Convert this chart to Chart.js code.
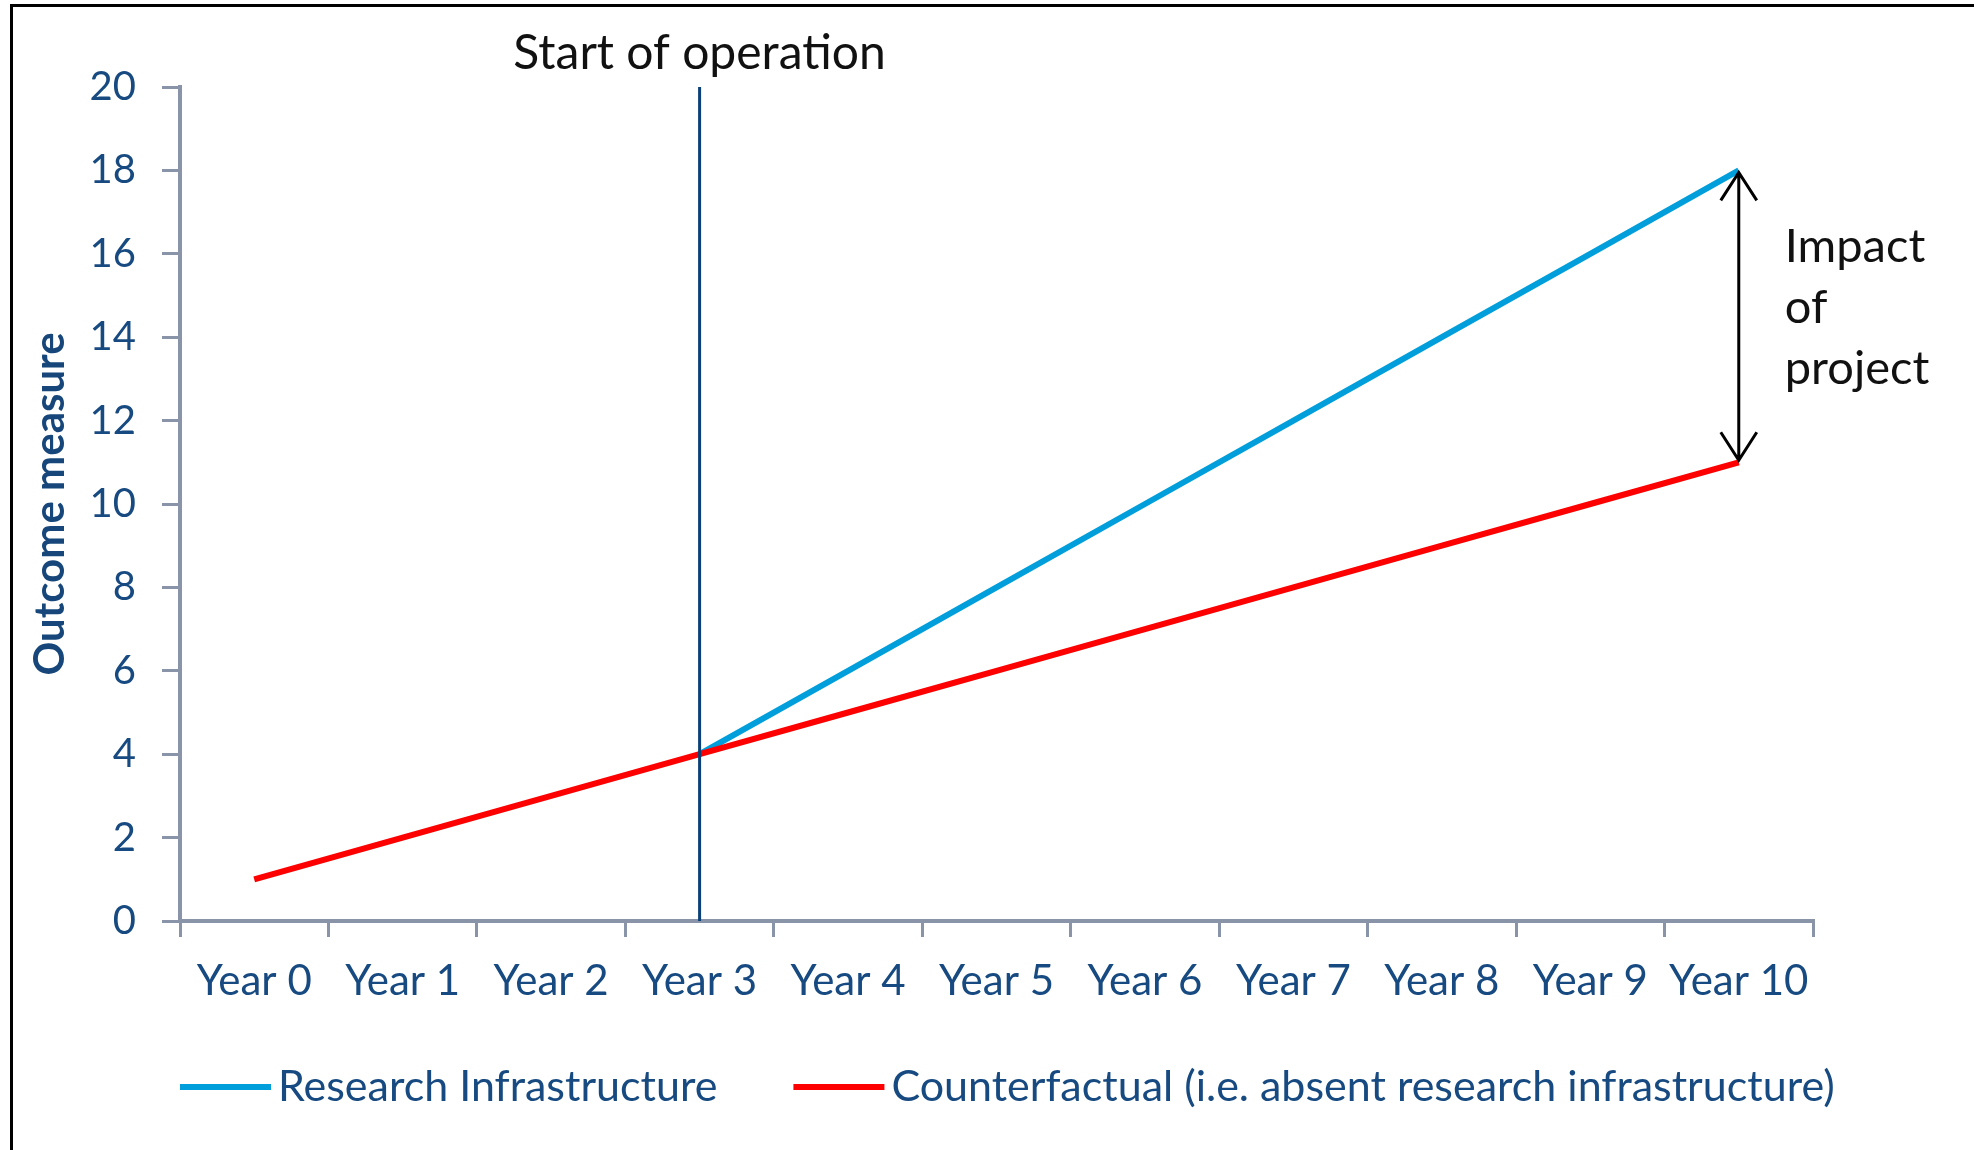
<!DOCTYPE html>
<html>
<head>
<meta charset="utf-8">
<title>Research infrastructure impact</title>
<script src="https://cdn.jsdelivr.net/npm/chart.js@4.4.1/dist/chart.umd.min.js"></script>
<style>
    html, body { margin: 0; padding: 0; background: #ffffff; }
    #wrap { position: relative; width: 1974px; height: 1150px; overflow: hidden; }
    #frame {
        position: absolute; left: 10px; top: 4px; right: 0; bottom: 0;
        border-left: 3px solid #000; border-top: 3px solid #000;
    }
    #impactChart { position: absolute; left: 0; top: 0; }
</style>
</head>
<body>
<div id="wrap">
    <div id="frame"></div>
    <canvas id="impactChart" width="1974" height="1150"></canvas>
</div>
<script>
// chart data
const years = ['Year 0', 'Year 1', 'Year 2', 'Year 3', 'Year 4', 'Year 5', 'Year 6', 'Year 7', 'Year 8', 'Year 9', 'Year 10'];
const researchInfra = [null, null, null, 4, 6, 8, 10, 12, 14, 16, 18];
const counterfactual = [1, 2, 3, 4, 5, 6, 7, 8, 9, 10, 11];
const yMin = 0;
const yMax = 20;
const yStep = 2;

// annotations
const startIndex = 3;
const startLabel = 'Start of operation';
const impactIndex = 10;
const impactLabel = ['Impact', 'of', 'project'];

const navy = '#174a80';
const axisGrey = '#8a94a8';
const fontName = 'Lato, "Open Sans", sans-serif';

// Draws the "Start of operation" line, the impact arrow and the legend
const annotations = {
    id: 'annotations',
    afterDatasetsDraw(chart) {
        const ctx = chart.ctx;
        const x = chart.scales.x;
        const y = chart.scales.y;
        const area = chart.chartArea;
        ctx.save();

        // start of operation
        const sx = x.getPixelForValue(startIndex);
        ctx.strokeStyle = '#0b4178';
        ctx.lineWidth = 3;
        ctx.beginPath();
        ctx.moveTo(sx, y.getPixelForValue(yMax));
        ctx.lineTo(sx, y.getPixelForValue(yMin));
        ctx.stroke();

        ctx.fillStyle = '#111111';
        ctx.font = '48px ' + fontName;
        ctx.textAlign = 'center';
        ctx.textBaseline = 'alphabetic';
        ctx.fillText(startLabel, sx, area.top - 18);

        // impact arrow
        const ax = x.getPixelForValue(impactIndex);
        const top = y.getPixelForValue(researchInfra[impactIndex]);
        const bottom = y.getPixelForValue(counterfactual[impactIndex]);
        ctx.strokeStyle = '#000000';
        ctx.lineWidth = 3;
        ctx.beginPath();
        ctx.moveTo(ax, top + 2);
        ctx.lineTo(ax, bottom - 2);
        ctx.moveTo(ax - 18, top + 30);
        ctx.lineTo(ax, top + 2);
        ctx.lineTo(ax + 18, top + 30);
        ctx.moveTo(ax - 18, bottom - 30);
        ctx.lineTo(ax, bottom - 2);
        ctx.lineTo(ax + 18, bottom - 30);
        ctx.stroke();

        const mid = (top + bottom) / 2;
        ctx.textAlign = 'left';
        ctx.font = '47px ' + fontName;
        ctx.fillStyle = '#111111';
        impactLabel.forEach((line, i) => {
            ctx.fillText(line, ax + 46, mid - 54 + i * 61);
        });

        // legend
        let lx = area.left;
        const ly = 1087;
        ctx.font = '43px ' + fontName;
        ctx.textBaseline = 'middle';
        chart.data.datasets.forEach((ds) => {
            ctx.fillStyle = ds.borderColor;
            ctx.fillRect(lx, ly - 3, 91, 6);
            lx += 98;
            ctx.fillStyle = navy;
            ctx.fillText(ds.label, lx, ly);
            lx += ctx.measureText(ds.label).width + 76;
        });

        ctx.restore();
    }
};

const ctx = document.getElementById('impactChart').getContext('2d');
const impactChart = new Chart(ctx, {
    type: 'line',
    data: {
        labels: years,
        datasets: [{
            label: 'Research Infrastructure',
            data: researchInfra,
            borderColor: '#009fdb',
            backgroundColor: '#009fdb',
            borderWidth: 6,
            pointRadius: 0,
            tension: 0,
            order: 1
        }, {
            label: 'Counterfactual (i.e. absent research infrastructure)',
            data: counterfactual,
            borderColor: '#ff0000',
            backgroundColor: '#ff0000',
            borderWidth: 6,
            pointRadius: 0,
            tension: 0,
            order: 0
        }]
    },
    options: {
        responsive: false,
        animation: false,
        devicePixelRatio: 1,
        layout: {
            padding: { left: 0, top: 87, right: 161, bottom: 129 }
        },
        plugins: {
            legend: { display: false },
            tooltip: { enabled: false }
        },
        scales: {
            x: {
                offset: true,
                grid: {
                    offset: true,
                    drawOnChartArea: false,
                    drawTicks: true,
                    tickLength: 16,
                    color: axisGrey,
                    lineWidth: 3
                },
                border: { color: axisGrey, width: 4 },
                ticks: {
                    color: navy,
                    font: { family: fontName, size: 42 },
                    padding: 19,
                    maxRotation: 0,
                    autoSkip: false
                },
                afterFit: (scale) => { scale.height = 100; }
            },
            y: {
                min: yMin,
                max: yMax,
                grid: {
                    drawOnChartArea: false,
                    drawTicks: true,
                    tickLength: 18,
                    color: axisGrey,
                    lineWidth: 3
                },
                border: { color: axisGrey, width: 4 },
                ticks: {
                    stepSize: yStep,
                    color: navy,
                    font: { family: fontName, size: 40 },
                    padding: 26
                },
                title: {
                    display: true,
                    text: 'Outcome measure',
                    color: '#17477a',
                    font: { family: fontName, size: 42, weight: 'bold' },
                    padding: { top: 25, bottom: 0 }
                },
                afterFit: (scale) => { scale.width = 180; }
            }
        }
    },
    plugins: [annotations]
});
</script>
</body>
</html>
